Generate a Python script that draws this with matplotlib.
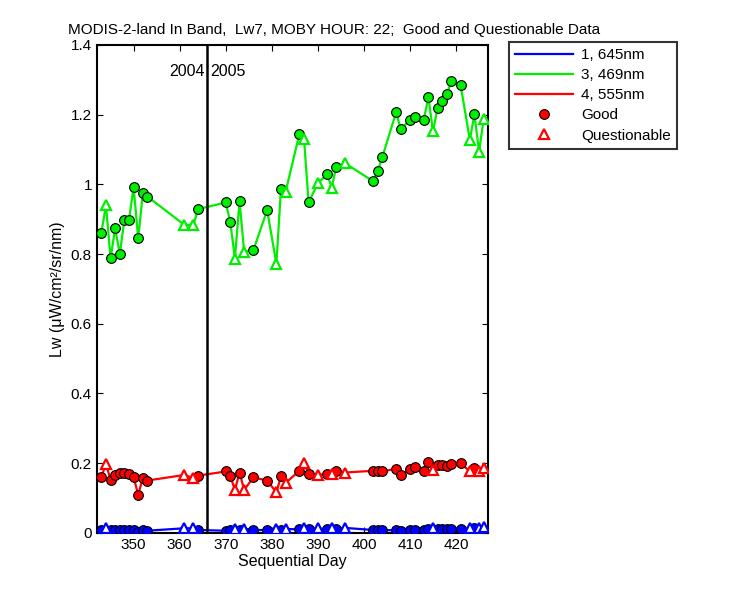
import numpy as np
import matplotlib
matplotlib.use('Agg')
import matplotlib.pyplot as plt
from matplotlib.lines import Line2D

plt.rcParams['font.family'] = ['Liberation Sans', 'DejaVu Sans']

# sequential days of the matchups
days = [343, 344, 345, 346, 347, 348, 349, 350, 351, 352, 353, 361, 363, 364,
        370, 371, 372, 373, 374, 376, 379, 381, 382, 383, 386, 387, 388, 390,
        392, 393, 394, 396, 402, 403, 404, 407, 408, 410, 411, 413, 414, 415,
        416, 417, 418, 419, 421, 423, 424, 425, 426]

# days flagged as questionable (the rest are good)
questionable_days = [344, 361, 363, 372, 374, 381, 383, 387, 390, 393, 396,
                     415, 423, 425, 426]

lw_645 = [0.008, 0.014, 0.007, 0.008, 0.008, 0.008, 0.007, 0.008, 0.003, 0.007,
          0.006, 0.013, 0.013, 0.008, 0.006, 0.008, 0.010, 0.009, 0.012, 0.008,
          0.008, 0.010, 0.008, 0.011, 0.010, 0.015, 0.011, 0.013, 0.010, 0.013,
          0.011, 0.014, 0.008, 0.008, 0.007, 0.008, 0.006, 0.008, 0.009, 0.009,
          0.012, 0.015, 0.012, 0.012, 0.012, 0.012, 0.011, 0.013, 0.014, 0.015,
          0.016]

lw_469 = [0.861, 0.940, 0.788, 0.874, 0.800, 0.898, 0.898, 0.992, 0.845, 0.974,
          0.965, 0.884, 0.884, 0.929, 0.948, 0.891, 0.787, 0.952, 0.807, 0.811,
          0.926, 0.772, 0.988, 0.978, 1.145, 1.130, 0.948, 1.003, 1.029, 0.991,
          1.050, 1.060, 1.009, 1.038, 1.078, 1.207, 1.159, 1.185, 1.193, 1.185,
          1.251, 1.152, 1.218, 1.239, 1.258, 1.298, 1.285, 1.128, 1.201, 1.094,
          1.187]

lw_555 = [0.160, 0.198, 0.152, 0.165, 0.172, 0.172, 0.168, 0.160, 0.109, 0.157,
          0.150, 0.166, 0.157, 0.164, 0.176, 0.163, 0.123, 0.173, 0.123, 0.159,
          0.150, 0.116, 0.162, 0.143, 0.178, 0.200, 0.169, 0.166, 0.169, 0.170,
          0.178, 0.173, 0.178, 0.176, 0.176, 0.184, 0.165, 0.183, 0.188, 0.176,
          0.203, 0.179, 0.195, 0.195, 0.193, 0.198, 0.200, 0.176, 0.186, 0.176,
          0.186]

series = [('1, 645nm', lw_645, '#0000ff'),
          ('3, 469nm', lw_469, '#00ee00'),
          ('4, 555nm', lw_555, '#ff0000')]

year_break = 366

fig = plt.figure(figsize=(7.5, 6), dpi=100)
ax = fig.add_axes([0.129, 0.112, 0.522, 0.813])

x = np.array(days)
q = np.isin(x, questionable_days)

for name, vals, col in series:
    y = np.array(vals)
    ax.plot(x, y, '-', color=col, lw=1.6, zorder=2)
for name, vals, col in series:
    y = np.array(vals)
    ax.plot(x[~q], y[~q], 'o', ms=7, mfc=col, mec='black', mew=0.8,
            ls='none', zorder=3)
    ax.plot(x[q], y[q], '^', ms=7.5, mfc='white', mec=col, mew=1.6,
            ls='none', zorder=3)

ax.axvline(year_break, color='black', lw=1.8, zorder=4)
ax.text(year_break - 0.6, 1.325, '2004', ha='right', va='center', fontsize=11.5)
ax.text(year_break + 0.6, 1.325, '2005', ha='left', va='center', fontsize=11.5)

ax.set_xlim(342, 427)
ax.set_ylim(0, 1.4)
ax.set_xticks(np.arange(350, 421, 10))
ax.set_yticks(np.arange(0, 1.41, 0.2))
ax.set_yticklabels(['0', '0.2', '0.4', '0.6', '0.8', '1', '1.2', '1.4'])
ax.tick_params(direction='in', top=True, right=True, labelsize=11, length=4)
for s in ax.spines.values():
    s.set_linewidth(1.5)

ax.set_xlabel('Sequential Day', fontsize=11.5, labelpad=2)
ax.set_ylabel('Lw (\u03bcW/cm\u00b2/sr/nm)', fontsize=11.5)
fig.text(0.445, 0.95, 'MODIS-2-land In Band,  Lw7, MOBY HOUR: 22;  Good and Questionable Data',
         ha='center', va='center', fontsize=11)

handles = [Line2D([], [], color=c, lw=1.6) for _, _, c in series]
handles.append(Line2D([], [], marker='o', ls='none', ms=7, mfc='red',
                      mec='black', mew=0.8))
handles.append(Line2D([], [], marker='^', ls='none', ms=6.5, mfc='white',
                      mec='red', mew=1.6))
labels = [s[0] for s in series] + ['Good', 'Questionable']
leg = fig.legend(handles, labels, loc='upper left', bbox_to_anchor=(0.679, 0.93),
                 borderaxespad=0, fontsize=11, frameon=True, fancybox=False,
                 edgecolor='black', handlelength=3.8, handletextpad=0.5,
                 labelspacing=0.4, borderpad=0.4)
leg.get_frame().set_linewidth(1.5)

fig.savefig('out.png', dpi=100)
